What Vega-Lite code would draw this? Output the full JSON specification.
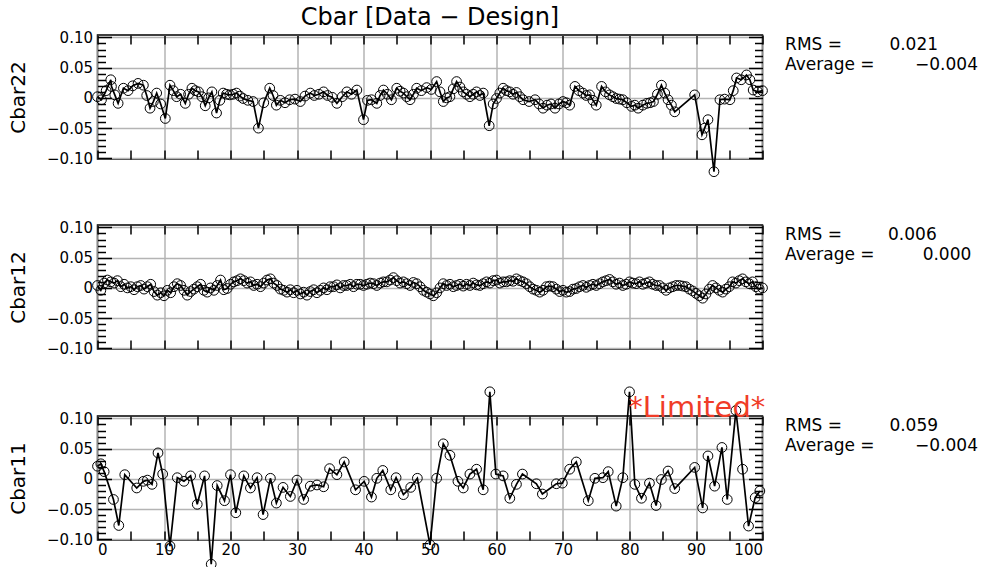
{
  "$schema": "https://vega.github.io/schema/vega-lite/v6.json",
  "padding": {"left": 7.5, "top": 5, "right": 5, "bottom": 0},
  "background": "white",
  "spacing": 39,
  "config": {
    "font": "DejaVu Sans",
    "view": {"stroke": "black", "strokeWidth": 1.5},
    "axis": {"labelFont": "DejaVu Sans", "labelFontSize": 15, "labelColor": "black", "titleFont": "DejaVu Sans", "titleFontSize": 20, "titleFontWeight": "normal", "titleColor": "black", "tickColor": "black", "tickWidth": 1.5, "domain": false}
  },
  "datasets": {
    "c22": [
      {"x":0,"y":0.002},{"x":0.6,"y":-0.003},{"x":1.3,"y":0.012},{"x":2,"y":0.03},{"x":2.1,"y":0.019},{"x":2.6,"y":0.005},{"x":3.1,"y":-0.009},{"x":3.9,"y":0.016},{"x":4.6,"y":0.012},{"x":5.3,"y":0.02},{"x":6.1,"y":0.024},{"x":6.9,"y":0.021},{"x":7.4,"y":0.004},{"x":7.9,"y":-0.017},{"x":8.4,"y":-0.006},{"x":8.9,"y":0.008},{"x":9.5,"y":-0.01},{"x":10.2,"y":-0.034},{"x":10.9,"y":0.021},{"x":11.4,"y":0.012},{"x":11.9,"y":0.002},{"x":12.5,"y":0.006},{"x":13.2,"y":-0.009},{"x":13.7,"y":0.006},{"x":14.2,"y":0.016},{"x":14.7,"y":0.012},{"x":15.2,"y":0.01},{"x":15.7,"y":0.002},{"x":16.2,"y":-0.013},{"x":16.7,"y":0.0},{"x":17.2,"y":0.01},{"x":17.9,"y":-0.025},{"x":18.4,"y":-0.004},{"x":18.9,"y":0.008},{"x":19.4,"y":0.006},{"x":19.9,"y":0.005},{"x":20.4,"y":0.006},{"x":20.9,"y":0.008},{"x":21.4,"y":0.003},{"x":21.9,"y":-0.001},{"x":22.6,"y":-0.004},{"x":23.4,"y":-0.006},{"x":24.2,"y":-0.05},{"x":25,"y":-0.008},{"x":25.9,"y":0.016},{"x":26.4,"y":0.004},{"x":26.9,"y":-0.012},{"x":27.5,"y":-0.004},{"x":28.2,"y":-0.008},{"x":28.9,"y":-0.003},{"x":29.7,"y":-0.002},{"x":30.5,"y":-0.006},{"x":31.2,"y":0.003},{"x":32,"y":0.008},{"x":32.6,"y":0.004},{"x":33.3,"y":0.006},{"x":34,"y":0.01},{"x":34.6,"y":0.004},{"x":35.3,"y":0.001},{"x":36,"y":-0.009},{"x":36.8,"y":0.002},{"x":37.5,"y":0.01},{"x":38.2,"y":0.006},{"x":39,"y":0.013},{"x":40,"y":-0.036},{"x":40.6,"y":-0.004},{"x":41.2,"y":-0.003},{"x":42,"y":-0.009},{"x":42.5,"y":0.004},{"x":43,"y":0.013},{"x":43.6,"y":0.006},{"x":44.2,"y":-0.003},{"x":45,"y":0.016},{"x":45.5,"y":0.011},{"x":46,"y":0.008},{"x":46.5,"y":0.002},{"x":47,"y":-0.003},{"x":47.5,"y":0.006},{"x":48,"y":0.016},{"x":48.7,"y":0.012},{"x":49.5,"y":0.017},{"x":50.2,"y":0.014},{"x":51,"y":0.027},{"x":51.5,"y":0.01},{"x":52,"y":-0.006},{"x":52.5,"y":0.0},{"x":53,"y":0.002},{"x":53.5,"y":0.015},{"x":54,"y":0.027},{"x":54.5,"y":0.018},{"x":55,"y":0.01},{"x":55.5,"y":0.006},{"x":56,"y":0.002},{"x":56.5,"y":0.006},{"x":57,"y":0.01},{"x":57.5,"y":0.004},{"x":58,"y":0.008},{"x":58.9,"y":-0.046},{"x":59.5,"y":-0.01},{"x":60,"y":-0.001},{"x":60.5,"y":0.008},{"x":61,"y":0.016},{"x":61.5,"y":0.012},{"x":62,"y":0.01},{"x":62.5,"y":0.006},{"x":63,"y":0.009},{"x":63.5,"y":0.002},{"x":64,"y":-0.003},{"x":64.9,"y":-0.006},{"x":65.8,"y":-0.003},{"x":66.4,"y":-0.01},{"x":67,"y":-0.017},{"x":67.6,"y":-0.012},{"x":68.2,"y":-0.01},{"x":68.8,"y":-0.017},{"x":69.4,"y":-0.01},{"x":70,"y":-0.006},{"x":70.5,"y":-0.008},{"x":71,"y":-0.012},{"x":71.8,"y":0.019},{"x":72.4,"y":0.012},{"x":73,"y":0.008},{"x":73.5,"y":0.004},{"x":74,"y":0.005},{"x":74.5,"y":-0.004},{"x":75,"y":-0.012},{"x":75.8,"y":0.019},{"x":76.4,"y":0.01},{"x":77,"y":0.005},{"x":77.5,"y":0.002},{"x":78,"y":-0.001},{"x":78.5,"y":-0.002},{"x":79,"y":-0.003},{"x":79.6,"y":-0.008},{"x":80.3,"y":-0.014},{"x":80.8,"y":-0.012},{"x":81.3,"y":-0.017},{"x":82,"y":-0.012},{"x":82.6,"y":-0.009},{"x":83.1,"y":-0.008},{"x":83.6,"y":-0.006},{"x":84.2,"y":0.006},{"x":84.8,"y":0.021},{"x":85.3,"y":0.008},{"x":85.8,"y":-0.003},{"x":86.3,"y":-0.012},{"x":86.8,"y":-0.023},{"x":89.8,"y":0.005},{"x":90.9,"y":-0.061},{"x":91.3,"y":-0.05},{"x":91.8,"y":-0.036},{"x":92.7,"y":-0.122},{"x":93.6,"y":-0.003},{"x":94.3,"y":-0.002},{"x":95.1,"y":-0.003},{"x":95.6,"y":0.012},{"x":96.1,"y":0.033},{"x":96.8,"y":0.03},{"x":97.6,"y":0.038},{"x":98.1,"y":0.03},{"x":98.6,"y":0.013},{"x":99.3,"y":0.01},{"x":100,"y":0.012}
    ],
    "c12": [
      {"x":0,"y":0.004},{"x":0.5,"y":-0.004},{"x":1,"y":0.008},{"x":1.5,"y":0.013},{"x":2,"y":0.01},{"x":2.5,"y":0.008},{"x":3,"y":0.012},{"x":3.5,"y":0.002},{"x":4,"y":0.006},{"x":4.5,"y":0.0},{"x":5,"y":0.002},{"x":5.5,"y":-0.003},{"x":6,"y":0.002},{"x":6.5,"y":0.004},{"x":7,"y":-0.002},{"x":7.5,"y":0.002},{"x":8,"y":0.006},{"x":8.5,"y":-0.006},{"x":9,"y":-0.012},{"x":9.5,"y":-0.008},{"x":10,"y":-0.013},{"x":10.5,"y":-0.004},{"x":11,"y":-0.008},{"x":11.5,"y":0.002},{"x":12,"y":0.007},{"x":12.5,"y":0.004},{"x":13,"y":-0.004},{"x":13.5,"y":-0.012},{"x":14,"y":-0.006},{"x":14.5,"y":-0.002},{"x":15,"y":0.002},{"x":15.5,"y":0.006},{"x":16,"y":-0.004},{"x":16.5,"y":-0.007},{"x":17,"y":0.0},{"x":17.5,"y":-0.004},{"x":18,"y":0.004},{"x":18.5,"y":0.013},{"x":19,"y":-0.003},{"x":19.5,"y":-0.001},{"x":20,"y":0.006},{"x":20.5,"y":0.01},{"x":21,"y":0.012},{"x":21.5,"y":0.015},{"x":22,"y":0.012},{"x":22.5,"y":0.008},{"x":23,"y":0.01},{"x":23.5,"y":0.004},{"x":24,"y":0.006},{"x":24.5,"y":0.002},{"x":25,"y":0.008},{"x":25.5,"y":0.013},{"x":26,"y":0.015},{"x":26.5,"y":0.008},{"x":27,"y":0.004},{"x":27.5,"y":-0.002},{"x":28,"y":-0.004},{"x":28.5,"y":-0.007},{"x":29,"y":-0.003},{"x":29.5,"y":-0.008},{"x":30,"y":-0.004},{"x":30.5,"y":-0.01},{"x":31,"y":-0.007},{"x":31.5,"y":-0.012},{"x":32,"y":-0.006},{"x":32.5,"y":-0.003},{"x":33,"y":-0.008},{"x":33.5,"y":-0.004},{"x":34,"y":0.0},{"x":34.5,"y":-0.003},{"x":35,"y":0.002},{"x":35.5,"y":0.002},{"x":36,"y":0.005},{"x":36.5,"y":0.0},{"x":37,"y":0.004},{"x":37.5,"y":0.004},{"x":38,"y":0.006},{"x":38.5,"y":0.002},{"x":39,"y":0.006},{"x":39.5,"y":0.006},{"x":40,"y":0.004},{"x":40.5,"y":0.006},{"x":41,"y":0.008},{"x":41.5,"y":0.007},{"x":42,"y":0.004},{"x":42.5,"y":0.008},{"x":43,"y":0.01},{"x":43.5,"y":0.01},{"x":44,"y":0.013},{"x":44.5,"y":0.017},{"x":45,"y":0.012},{"x":45.5,"y":0.008},{"x":46,"y":0.01},{"x":46.5,"y":0.007},{"x":47,"y":0.004},{"x":47.5,"y":0.009},{"x":48,"y":0.007},{"x":48.5,"y":0.002},{"x":49,"y":-0.004},{"x":49.5,"y":-0.007},{"x":50,"y":-0.01},{"x":50.5,"y":-0.013},{"x":51,"y":-0.008},{"x":51.5,"y":0.0},{"x":52,"y":0.007},{"x":52.5,"y":0.004},{"x":53,"y":0.006},{"x":53.5,"y":0.002},{"x":54,"y":0.004},{"x":54.5,"y":0.006},{"x":55,"y":0.003},{"x":55.5,"y":0.006},{"x":56,"y":0.004},{"x":56.5,"y":0.008},{"x":57,"y":0.005},{"x":57.5,"y":0.004},{"x":58,"y":0.007},{"x":58.5,"y":0.01},{"x":59,"y":0.008},{"x":59.5,"y":0.012},{"x":60,"y":0.013},{"x":60.5,"y":0.008},{"x":61,"y":0.01},{"x":61.5,"y":0.01},{"x":62,"y":0.012},{"x":62.5,"y":0.011},{"x":63,"y":0.015},{"x":63.5,"y":0.012},{"x":64,"y":0.01},{"x":64.5,"y":0.007},{"x":65,"y":0.002},{"x":65.5,"y":-0.002},{"x":66,"y":-0.004},{"x":66.5,"y":-0.007},{"x":67,"y":-0.004},{"x":67.5,"y":0.002},{"x":68,"y":0.003},{"x":68.5,"y":0.002},{"x":69,"y":-0.002},{"x":69.5,"y":-0.006},{"x":70,"y":-0.004},{"x":70.5,"y":-0.007},{"x":71,"y":-0.006},{"x":71.5,"y":-0.002},{"x":72,"y":-0.001},{"x":72.5,"y":0.002},{"x":73,"y":0.004},{"x":73.5,"y":0.001},{"x":74,"y":0.004},{"x":74.5,"y":0.006},{"x":75,"y":0.004},{"x":75.5,"y":0.007},{"x":76,"y":0.01},{"x":76.5,"y":0.012},{"x":77,"y":0.014},{"x":77.5,"y":0.01},{"x":78,"y":0.006},{"x":78.5,"y":0.008},{"x":79,"y":0.004},{"x":79.5,"y":0.006},{"x":80,"y":0.01},{"x":80.5,"y":0.008},{"x":81,"y":0.007},{"x":81.5,"y":0.01},{"x":82,"y":0.006},{"x":82.5,"y":0.008},{"x":83,"y":0.01},{"x":83.5,"y":0.006},{"x":84,"y":0.004},{"x":84.5,"y":0.004},{"x":85,"y":0.0},{"x":85.5,"y":-0.004},{"x":86,"y":0.0},{"x":86.5,"y":0.002},{"x":87,"y":0.004},{"x":87.5,"y":0.004},{"x":88,"y":0.003},{"x":88.5,"y":0.002},{"x":89,"y":-0.002},{"x":89.5,"y":-0.005},{"x":90,"y":-0.009},{"x":90.5,"y":-0.013},{"x":91,"y":-0.017},{"x":91.5,"y":-0.01},{"x":92,"y":-0.002},{"x":92.5,"y":0.004},{"x":93,"y":0.0},{"x":93.5,"y":-0.004},{"x":94,"y":-0.007},{"x":94.5,"y":-0.002},{"x":95,"y":0.002},{"x":95.5,"y":0.01},{"x":96,"y":0.008},{"x":96.5,"y":0.012},{"x":97,"y":0.015},{"x":97.5,"y":0.01},{"x":98,"y":0.007},{"x":98.5,"y":0.01},{"x":99,"y":0.002},{"x":99.5,"y":-0.002},{"x":100,"y":0.0}
    ],
    "c11": [
      {"x":0,"y":0.021},{"x":0.5,"y":0.025},{"x":1,"y":0.012},{"x":2.4,"y":-0.034},{"x":3.2,"y":-0.077},{"x":4.1,"y":0.007},{"x":5.9,"y":-0.015},{"x":6.9,"y":-0.004},{"x":7.5,"y":-0.002},{"x":8.2,"y":-0.009},{"x":9.1,"y":0.043},{"x":9.8,"y":0.008},{"x":10.9,"y":-0.111},{"x":12,"y":0.002},{"x":13,"y":-0.004},{"x":14,"y":0.005},{"x":15,"y":-0.042},{"x":16.1,"y":0.005},{"x":17.1,"y":-0.141},{"x":18,"y":-0.011},{"x":19.1,"y":-0.036},{"x":20,"y":0.007},{"x":20.8,"y":-0.056},{"x":22,"y":0.005},{"x":23,"y":-0.015},{"x":24,"y":0.002},{"x":24.9,"y":-0.059},{"x":26,"y":0.001},{"x":26.9,"y":-0.04},{"x":27.9,"y":-0.014},{"x":29,"y":-0.029},{"x":30,"y":-0.002},{"x":31,"y":-0.034},{"x":32,"y":-0.012},{"x":33,"y":-0.01},{"x":34,"y":-0.013},{"x":34.9,"y":0.017},{"x":36,"y":0.007},{"x":37.1,"y":0.028},{"x":38.8,"y":-0.018},{"x":40.1,"y":-0.004},{"x":41.2,"y":-0.03},{"x":42,"y":0.001},{"x":42.9,"y":0.014},{"x":44.1,"y":-0.018},{"x":44.9,"y":0.002},{"x":46,"y":-0.026},{"x":47.1,"y":-0.014},{"x":48.1,"y":0.001},{"x":50,"y":-0.109},{"x":51,"y":0.001},{"x":52,"y":0.058},{"x":53,"y":0.039},{"x":54.2,"y":-0.004},{"x":55,"y":-0.015},{"x":56,"y":0.008},{"x":57,"y":0.016},{"x":58,"y":-0.018},{"x":59,"y":0.144},{"x":59.9,"y":0.008},{"x":61,"y":0.005},{"x":62,"y":-0.032},{"x":63,"y":-0.009},{"x":63.9,"y":0.008},{"x":66,"y":-0.008},{"x":66.9,"y":-0.025},{"x":69,"y":-0.008},{"x":69.9,"y":-0.007},{"x":71,"y":0.016},{"x":72,"y":0.028},{"x":73.8,"y":-0.036},{"x":74.8,"y":0.001},{"x":76,"y":0.002},{"x":76.8,"y":0.012},{"x":78,"y":-0.045},{"x":79,"y":0.002},{"x":80,"y":0.144},{"x":80.8,"y":-0.009},{"x":81.8,"y":-0.032},{"x":83,"y":-0.007},{"x":84,"y":-0.044},{"x":84.8,"y":-0.001},{"x":85.8,"y":0.013},{"x":86.8,"y":-0.016},{"x":89.8,"y":0.019},{"x":91,"y":-0.048},{"x":91.8,"y":0.038},{"x":92.8,"y":-0.012},{"x":93.9,"y":0.052},{"x":94.7,"y":-0.034},{"x":96,"y":0.113},{"x":97,"y":0.016},{"x":97.9,"y":-0.078},{"x":98.9,"y":-0.031},{"x":99.6,"y":-0.02}
    ],
    "l22": [{"tx":103.4,"ty":0.087,"t":"RMS ="},{"tx":103.4,"ty":0.054,"t":"Average ="}],
    "v22": [{"tx":126.4,"ty":0.087,"t":"0.021"},{"tx":132.4,"ty":0.054,"t":"−0.004"}],
    "l12": [{"tx":103.4,"ty":0.087,"t":"RMS ="},{"tx":103.4,"ty":0.054,"t":"Average ="}],
    "v12": [{"tx":126.2,"ty":0.087,"t":"0.006"},{"tx":131.4,"ty":0.054,"t":"0.000"}],
    "l11": [{"tx":103.4,"ty":0.087,"t":"RMS ="},{"tx":103.4,"ty":0.054,"t":"Average ="}],
    "v11": [{"tx":126.4,"ty":0.087,"t":"0.059"},{"tx":132.4,"ty":0.054,"t":"−0.004"}],
    "lim": [{"tx":79.8,"ty":0.118,"t":"*Limited*"}]
  },
  "vconcat": [
    {
      "width": 665, "height": 124,
      "title": {"text": "Cbar [Data − Design]", "font": "DejaVu Sans", "fontSize": 24, "fontWeight": "normal", "color": "black", "anchor": "middle", "offset": 0},
      "resolve": {"axis": {"x": "independent", "y": "independent"}},
      "layer": [
        {"data": {"name": "c22"}, "mark": {"type": "line", "color": "black", "strokeWidth": 1.7},
         "encoding": {
           "x": {"field": "x", "type": "quantitative", "scale": {"domain": [0, 100], "nice": false, "zero": false},
                 "axis": {"orient": "bottom", "values": [0,5,10,15,20,25,30,35,40,45,50,55,60,65,70,75,80,85,90,95,100], "labels": false, "title": null, "tickSize": -9, "grid": true, "gridColor": "#b4b4b4", "gridWidth": 1.5, "gridOpacity": {"condition": {"test": "datum.value % 10 == 0", "value": 1}, "value": 0}}},
           "y": {"field": "y", "type": "quantitative", "scale": {"domain": [-0.101, 0.104], "nice": false, "zero": false},
                 "axis": {"orient": "left", "values": [-0.1,-0.09,-0.08,-0.07,-0.06,-0.05,-0.04,-0.03,-0.02,-0.01,0,0.01,0.02,0.03,0.04,0.05,0.06,0.07,0.08,0.09,0.1], "title": "Cbar22", "titlePadding": 18, "labelPadding": 19, "labelExpr": "abs(round(datum.value*100)) % 5 != 0 ? '' : (datum.value == 0 ? '0' : format(datum.value, '.2f'))", "tickSize": {"condition": {"test": "abs(round(datum.value*100)) % 5 == 0", "value": -14}, "value": -8}, "grid": true, "gridColor": "#b4b4b4", "gridWidth": 1.5, "gridOpacity": {"condition": {"test": "abs(round(datum.value*100)) % 5 == 0", "value": 1}, "value": 0}}}
         }},
        {"data": {"name": "c22"}, "mark": {"type": "point", "shape": "circle", "size": 95, "filled": false, "color": "black", "strokeWidth": 1, "opacity": 1},
         "encoding": {
           "x": {"field": "x", "type": "quantitative", "scale": {"domain": [0, 100], "nice": false, "zero": false},
                 "axis": {"orient": "top", "values": [0,5,10,15,20,25,30,35,40,45,50,55,60,65,70,75,80,85,90,95,100], "labels": false, "title": null, "tickSize": -9, "grid": false}},
           "y": {"field": "y", "type": "quantitative", "scale": {"domain": [-0.101, 0.104], "nice": false, "zero": false},
                 "axis": {"orient": "right", "values": [-0.1,-0.09,-0.08,-0.07,-0.06,-0.05,-0.04,-0.03,-0.02,-0.01,0,0.01,0.02,0.03,0.04,0.05,0.06,0.07,0.08,0.09,0.1], "labels": false, "title": null, "tickSize": {"condition": {"test": "abs(round(datum.value*100)) % 5 == 0", "value": -14}, "value": -8}, "grid": false}}
         }},
        {"data": {"name": "l22"}, "mark": {"type": "text", "align": "left", "baseline": "middle", "fontSize": 17, "color": "black"},
         "encoding": {"x": {"field": "tx", "type": "quantitative", "scale": {"domain": [0, 100], "nice": false, "zero": false}, "axis": null}, "y": {"field": "ty", "type": "quantitative", "scale": {"domain": [-0.101, 0.104], "nice": false, "zero": false}, "axis": null}, "text": {"field": "t"}}},
        {"data": {"name": "v22"}, "mark": {"type": "text", "align": "right", "baseline": "middle", "fontSize": 17, "color": "black"},
         "encoding": {"x": {"field": "tx", "type": "quantitative", "scale": {"domain": [0, 100], "nice": false, "zero": false}, "axis": null}, "y": {"field": "ty", "type": "quantitative", "scale": {"domain": [-0.101, 0.104], "nice": false, "zero": false}, "axis": null}, "text": {"field": "t"}}}
      ]
    },
    {
      "spacing": 26,
      "vconcat": [
        {
          "width": 665, "height": 124,
          "resolve": {"axis": {"x": "independent", "y": "independent"}},
          "layer": [
            {"data": {"name": "c12"}, "mark": {"type": "line", "color": "black", "strokeWidth": 1.7},
             "encoding": {
               "x": {"field": "x", "type": "quantitative", "scale": {"domain": [0, 100], "nice": false, "zero": false},
                     "axis": {"orient": "bottom", "values": [0,5,10,15,20,25,30,35,40,45,50,55,60,65,70,75,80,85,90,95,100], "labels": false, "title": null, "tickSize": -9, "grid": true, "gridColor": "#b4b4b4", "gridWidth": 1.5, "gridOpacity": {"condition": {"test": "datum.value % 10 == 0", "value": 1}, "value": 0}}},
               "y": {"field": "y", "type": "quantitative", "scale": {"domain": [-0.101, 0.104], "nice": false, "zero": false},
                     "axis": {"orient": "left", "values": [-0.1,-0.09,-0.08,-0.07,-0.06,-0.05,-0.04,-0.03,-0.02,-0.01,0,0.01,0.02,0.03,0.04,0.05,0.06,0.07,0.08,0.09,0.1], "title": "Cbar12", "titlePadding": 18, "labelPadding": 19, "labelExpr": "abs(round(datum.value*100)) % 5 != 0 ? '' : (datum.value == 0 ? '0' : format(datum.value, '.2f'))", "tickSize": {"condition": {"test": "abs(round(datum.value*100)) % 5 == 0", "value": -14}, "value": -8}, "grid": true, "gridColor": "#b4b4b4", "gridWidth": 1.5, "gridOpacity": {"condition": {"test": "abs(round(datum.value*100)) % 5 == 0", "value": 1}, "value": 0}}}
             }},
            {"data": {"name": "c12"}, "mark": {"type": "point", "shape": "circle", "size": 95, "filled": false, "color": "black", "strokeWidth": 1, "opacity": 1},
             "encoding": {
               "x": {"field": "x", "type": "quantitative", "scale": {"domain": [0, 100], "nice": false, "zero": false},
                     "axis": {"orient": "top", "values": [0,5,10,15,20,25,30,35,40,45,50,55,60,65,70,75,80,85,90,95,100], "labels": false, "title": null, "tickSize": -9, "grid": false}},
               "y": {"field": "y", "type": "quantitative", "scale": {"domain": [-0.101, 0.104], "nice": false, "zero": false},
                     "axis": {"orient": "right", "values": [-0.1,-0.09,-0.08,-0.07,-0.06,-0.05,-0.04,-0.03,-0.02,-0.01,0,0.01,0.02,0.03,0.04,0.05,0.06,0.07,0.08,0.09,0.1], "labels": false, "title": null, "tickSize": {"condition": {"test": "abs(round(datum.value*100)) % 5 == 0", "value": -14}, "value": -8}, "grid": false}}
             }},
            {"data": {"name": "l12"}, "mark": {"type": "text", "align": "left", "baseline": "middle", "fontSize": 17, "color": "black"},
             "encoding": {"x": {"field": "tx", "type": "quantitative", "scale": {"domain": [0, 100], "nice": false, "zero": false}, "axis": null}, "y": {"field": "ty", "type": "quantitative", "scale": {"domain": [-0.101, 0.104], "nice": false, "zero": false}, "axis": null}, "text": {"field": "t"}}},
            {"data": {"name": "v12"}, "mark": {"type": "text", "align": "right", "baseline": "middle", "fontSize": 17, "color": "black"},
             "encoding": {"x": {"field": "tx", "type": "quantitative", "scale": {"domain": [0, 100], "nice": false, "zero": false}, "axis": null}, "y": {"field": "ty", "type": "quantitative", "scale": {"domain": [-0.101, 0.104], "nice": false, "zero": false}, "axis": null}, "text": {"field": "t"}}}
          ]
        },
        {
          "width": 665, "height": 124,
          "resolve": {"axis": {"x": "independent", "y": "independent"}},
          "layer": [
            {"data": {"name": "c11"}, "mark": {"type": "line", "color": "black", "strokeWidth": 1.7},
             "encoding": {
               "x": {"field": "x", "type": "quantitative", "scale": {"domain": [0, 100], "nice": false, "zero": false},
                     "axis": {"orient": "bottom", "values": [0,5,10,15,20,25,30,35,40,45,50,55,60,65,70,75,80,85,90,95,100], "labelExpr": "datum.value % 10 == 0 ? datum.label : ''", "labelPadding": 11, "title": null, "tickSize": -9, "grid": true, "gridColor": "#b4b4b4", "gridWidth": 1.5, "gridOpacity": {"condition": {"test": "datum.value % 10 == 0", "value": 1}, "value": 0}}},
               "y": {"field": "y", "type": "quantitative", "scale": {"domain": [-0.101, 0.104], "nice": false, "zero": false},
                     "axis": {"orient": "left", "values": [-0.1,-0.09,-0.08,-0.07,-0.06,-0.05,-0.04,-0.03,-0.02,-0.01,0,0.01,0.02,0.03,0.04,0.05,0.06,0.07,0.08,0.09,0.1], "title": "Cbar11", "titlePadding": 18, "labelPadding": 19, "labelExpr": "abs(round(datum.value*100)) % 5 != 0 ? '' : (datum.value == 0 ? '0' : format(datum.value, '.2f'))", "tickSize": {"condition": {"test": "abs(round(datum.value*100)) % 5 == 0", "value": -14}, "value": -8}, "grid": true, "gridColor": "#b4b4b4", "gridWidth": 1.5, "gridOpacity": {"condition": {"test": "abs(round(datum.value*100)) % 5 == 0", "value": 1}, "value": 0}}}
             }},
            {"data": {"name": "c11"}, "mark": {"type": "point", "shape": "circle", "size": 95, "filled": false, "color": "black", "strokeWidth": 1, "opacity": 1},
             "encoding": {
               "x": {"field": "x", "type": "quantitative", "scale": {"domain": [0, 100], "nice": false, "zero": false},
                     "axis": {"orient": "top", "values": [0,5,10,15,20,25,30,35,40,45,50,55,60,65,70,75,80,85,90,95,100], "labels": false, "title": null, "tickSize": -9, "grid": false}},
               "y": {"field": "y", "type": "quantitative", "scale": {"domain": [-0.101, 0.104], "nice": false, "zero": false},
                     "axis": {"orient": "right", "values": [-0.1,-0.09,-0.08,-0.07,-0.06,-0.05,-0.04,-0.03,-0.02,-0.01,0,0.01,0.02,0.03,0.04,0.05,0.06,0.07,0.08,0.09,0.1], "labels": false, "title": null, "tickSize": {"condition": {"test": "abs(round(datum.value*100)) % 5 == 0", "value": -14}, "value": -8}, "grid": false}}
             }},
            {"data": {"name": "l11"}, "mark": {"type": "text", "align": "left", "baseline": "middle", "fontSize": 17, "color": "black"},
             "encoding": {"x": {"field": "tx", "type": "quantitative", "scale": {"domain": [0, 100], "nice": false, "zero": false}, "axis": null}, "y": {"field": "ty", "type": "quantitative", "scale": {"domain": [-0.101, 0.104], "nice": false, "zero": false}, "axis": null}, "text": {"field": "t"}}},
            {"data": {"name": "v11"}, "mark": {"type": "text", "align": "right", "baseline": "middle", "fontSize": 17, "color": "black"},
             "encoding": {"x": {"field": "tx", "type": "quantitative", "scale": {"domain": [0, 100], "nice": false, "zero": false}, "axis": null}, "y": {"field": "ty", "type": "quantitative", "scale": {"domain": [-0.101, 0.104], "nice": false, "zero": false}, "axis": null}, "text": {"field": "t"}}},
            {"data": {"name": "lim"}, "mark": {"type": "text", "align": "left", "baseline": "middle", "fontSize": 29, "color": "#f03c28"},
             "encoding": {"x": {"field": "tx", "type": "quantitative", "scale": {"domain": [0, 100], "nice": false, "zero": false}, "axis": null}, "y": {"field": "ty", "type": "quantitative", "scale": {"domain": [-0.101, 0.104], "nice": false, "zero": false}, "axis": null}, "text": {"field": "t"}}}
          ]
        }
      ]
    }
  ]
}
